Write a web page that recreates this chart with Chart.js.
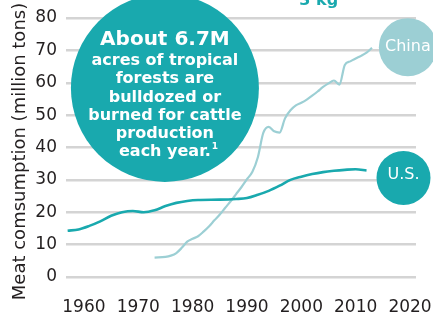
<!DOCTYPE html>
<html>
<head>
<meta charset="utf-8">
<script src="https://cdn.jsdelivr.net/npm/chart.js@4"></script>
<style>
    html, body { margin: 0; padding: 0; background: #ffffff; }
    #wrap { width: 433px; height: 313px; }
</style>
</head>
<body>
<div id="wrap"><canvas id="meatChart" width="433" height="313"></canvas></div>
<script>
// Data (million tons)
const usYears = [1957, 1959, 1961, 1963, 1965, 1967, 1969, 1971, 1973, 1975, 1977, 1979, 1981, 1985, 1988, 1990, 1992, 1994, 1996, 1998, 2000, 2002, 2004, 2006, 2008, 2010, 2012];
const usValues = [14.3, 14.7, 15.8, 17.2, 18.9, 20.0, 20.4, 20.0, 20.6, 21.9, 22.9, 23.5, 23.8, 23.9, 24.1, 24.4, 25.4, 26.6, 28.2, 30.0, 31.0, 31.8, 32.4, 32.8, 33.1, 33.3, 32.9];

const chinaYears = [1973, 1975, 1976, 1977, 1978, 1979, 1980, 1981, 1982, 1983, 1984, 1985, 1986, 1987, 1988, 1989, 1990, 1991, 1992, 1993, 1994, 1995, 1996, 1997, 1998, 1999, 2000, 2001, 2002, 2003, 2004, 2005, 2006, 2007, 2008, 2009, 2010, 2011, 2012, 2013];
const chinaValues = [6.0, 6.2, 6.6, 7.4, 9.0, 10.9, 11.8, 12.6, 14.0, 15.6, 17.5, 19.3, 21.4, 23.4, 25.6, 27.8, 30.2, 32.5, 37.0, 44.5, 46.4, 45.0, 44.6, 49.0, 51.5, 53.0, 53.8, 54.8, 56.0, 57.3, 58.7, 59.8, 60.7, 59.4, 65.5, 66.6, 67.5, 68.3, 69.3, 70.8];

const xTicks = [1960, 1970, 1980, 1990, 2000, 2010, 2020];
const yTicks = [0, 10, 20, 30, 40, 50, 60, 70, 80];

const bubbleText = ['acres of tropical', 'forests are', 'bulldozed or', 'burned for cattle', 'production', 'each year.'];

const TEAL = '#19a9ae';
const LIGHT_TEAL = '#9ccfd4';
const DARK = '#231f20';
const FONT = '"DejaVu Sans", sans-serif';

// Draws the axis title and call-out bubbles on top of the lines
const bubblePlugin = {
    id: 'bubbles',
    afterDatasetsDraw(chart) {
        const ctx = chart.ctx;
        const x = chart.scales.x;
        const y = chart.scales.y;

        function circle(cx, cy, r, color) {
            ctx.beginPath();
            ctx.arc(cx, cy, r, 0, Math.PI * 2);
            ctx.fillStyle = color;
            ctx.fill();
        }

        ctx.save();

        // y axis title (drawn by hand so it can sit a little lower)
        ctx.save();
        ctx.translate(25, 151.5);
        ctx.rotate(-Math.PI / 2);
        ctx.fillStyle = DARK;
        ctx.font = '18px ' + FONT;
        ctx.textAlign = 'center';
        ctx.textBaseline = 'alphabetic';
        ctx.fillText('Meat comsumption (million tons)', 0, 0);
        ctx.restore();

        ctx.textAlign = 'center';
        ctx.textBaseline = 'alphabetic';

        // big forest bubble
        const bx = x.getPixelForValue(1974.9);
        const by = y.getPixelForValue(58.4);
        circle(bx, by, 94, TEAL);
        ctx.fillStyle = '#ffffff';
        ctx.font = 'bold 20px ' + FONT;
        ctx.fillText('About 6.7M', bx, by - 43);
        ctx.font = 'bold 16px ' + FONT;
        bubbleText.forEach((line, i) => {
            ctx.fillText(line, bx, by - 23 + i * 18.3);
        });
        // footnote mark after the last line
        const last = bubbleText[bubbleText.length - 1];
        const w = ctx.measureText(last).width;
        ctx.font = 'bold 9px ' + FONT;
        ctx.textAlign = 'left';
        ctx.fillText('1', bx + w / 2 + 1, by - 23 + 5 * 18.3 - 7);
        ctx.textAlign = 'center';

        // China bubble
        const cx = x.getPixelForValue(2019.6);
        const cy = y.getPixelForValue(71.0);
        circle(cx, cy, 29, LIGHT_TEAL);
        ctx.fillStyle = '#ffffff';
        ctx.font = '16px ' + FONT;
        ctx.textBaseline = 'middle';
        ctx.fillText('China', cx, cy);

        // U.S. bubble
        const ux = x.getPixelForValue(2018.8);
        const uy = y.getPixelForValue(30.6);
        circle(ux, uy, 27, TEAL);
        ctx.fillStyle = '#ffffff';
        ctx.fillText('U.S.', ux, uy - 3);

        // cut-off text at the very top
        ctx.fillStyle = TEAL;
        ctx.font = 'bold 16px ' + FONT;
        ctx.textBaseline = 'alphabetic';
        ctx.fillText('3 kg', x.getPixelForValue(2003.2), 5);

        ctx.restore();
    }
};

const ctx = document.getElementById('meatChart').getContext('2d');
new Chart(ctx, {
    type: 'line',
    data: {
        datasets: [
            {
                label: 'U.S.',
                data: usYears.map((yr, i) => ({ x: yr, y: usValues[i] })),
                borderColor: TEAL,
                borderWidth: 2.6,
                pointRadius: 0,
                cubicInterpolationMode: 'monotone',
                fill: false
            },
            {
                label: 'China',
                data: chinaYears.map((yr, i) => ({ x: yr, y: chinaValues[i] })),
                borderColor: LIGHT_TEAL,
                borderWidth: 2.2,
                pointRadius: 0,
                cubicInterpolationMode: 'monotone',
                fill: false
            }
        ]
    },
    options: {
        responsive: false,
        animation: false,
        layout: {
            padding: { left: 0, top: 18, right: 17, bottom: 0 }
        },
        plugins: {
            legend: { display: false },
            tooltip: { enabled: false }
        },
        scales: {
            x: {
                type: 'linear',
                min: 1956.7,
                max: 2021.1,
                afterBuildTicks: scale => {
                    scale.ticks = xTicks.map(v => ({ value: v }));
                },
                afterFit: scale => {
                    // fixed box, no extra label overhang padding
                    scale.height = 36;
                    scale.paddingLeft = 0;
                    scale.paddingRight = 0;
                },
                grid: { display: false, drawTicks: false },
                border: { display: false },
                ticks: {
                    padding: 20,
                    color: DARK,
                    font: { family: FONT, size: 17 },
                    maxRotation: 0,
                    callback: v => String(v)
                }
            },
            y: {
                min: 0,
                max: 80,
                afterBuildTicks: scale => {
                    scale.ticks = yTicks.map(v => ({ value: v }));
                },
                afterFit: scale => {
                    scale.width = 66;
                    scale.paddingTop = 0;
                    scale.paddingBottom = 0;
                },
                grid: {
                    color: '#d4d4d4',
                    lineWidth: 2.5,
                    drawTicks: false
                },
                border: { display: false },
                ticks: {
                    padding: 9,
                    color: DARK,
                    font: { family: FONT, size: 17 }
                }
            }
        }
    },
    plugins: [bubblePlugin]
});
</script>
</body>
</html>
